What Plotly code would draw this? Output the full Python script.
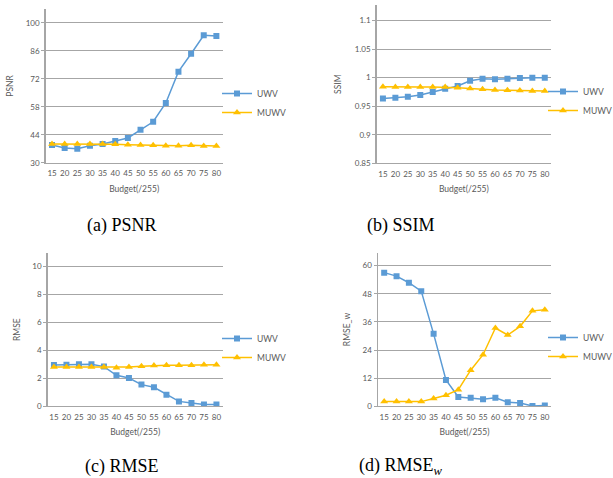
import plotly.graph_objects as go

categories = ["15", "20", "25", "30", "35", "40", "45", "50", "55", "60", "65", "70", "75", "80"]

psnr_uwv = [38.9, 37.4, 37.0, 38.5, 39.4, 40.9, 42.4, 46.5, 50.5, 59.9, 75.6, 84.6, 93.8, 93.5]
psnr_muwv = [39.4, 39.4, 39.4, 39.4, 39.4, 39.2, 39.0, 38.9, 38.7, 38.5, 38.5, 38.7, 38.4, 38.4]

ssim_uwv = [0.9636, 0.9648, 0.9666, 0.9695, 0.9747, 0.9805, 0.9852, 0.9945, 0.998, 0.9969, 0.998, 0.9992, 0.9998, 0.9998]
ssim_muwv = [0.984, 0.9834, 0.9834, 0.9834, 0.9834, 0.9834, 0.9823, 0.9811, 0.9794, 0.9782, 0.978, 0.9776, 0.9765, 0.9765]

rmse_uwv = [2.94, 2.96, 2.98, 2.98, 2.82, 2.20, 2.00, 1.53, 1.34, 0.81, 0.33, 0.21, 0.10, 0.10]
rmse_muwv = [2.79, 2.79, 2.79, 2.79, 2.79, 2.74, 2.79, 2.84, 2.89, 2.91, 2.91, 2.91, 2.96, 2.96]

rmsew_uwv = [57.0, 55.5, 52.7, 49.1, 30.9, 11.2, 4.0, 3.6, 3.0, 3.6, 1.7, 1.4, 0.1, 0.3]
rmsew_muwv = [2.1, 2.1, 2.1, 2.0, 3.3, 4.7, 7.1, 15.4, 22.0, 33.4, 30.4, 34.1, 40.7, 41.2]

series_names = ["UWV", "MUWV"]
y_titles = ["PSNR", "SSIM", "RMSE", "RMSE_w"]
captions = ["(a) PSNR", "(b) SSIM", "(c) RMSE", "(d) RMSE<sub><i>w</i></sub>"]
x_title = "Budget(/255)"

psnr_ticks = [30, 44, 58, 72, 86, 100]
ssim_ticks = [0.85, 0.9, 0.95, 1, 1.05, 1.1]
ssim_ticktext = ["0.85", "0.9", "0.95", "1", "1.05", "1.1"]
rmse_ticks = [0, 2, 4, 6, 8, 10]
rmsew_ticks = [0, 12, 24, 36, 48, 60]

W, H = 613, 478
BLUE = "#5B9BD5"
GOLD = "#FFC000"
GRID = "#A6A6A6"
TXT = "#595959"
FONT = "Lato"

panels = [
    dict(data=(psnr_uwv, psnr_muwv), xd=(45.7, 222.7), yd=(9, 162.7), rng=[30, 107], tv=psnr_ticks, tt=[str(v) for v in psnr_ticks], ys=10),
    dict(data=(ssim_uwv, ssim_muwv), xd=(376.7, 551), yd=(5, 163.3), rng=[0.85, 1.127], tv=ssim_ticks, tt=ssim_ticktext, ys=12),
    dict(data=(rmse_uwv, rmse_muwv), xd=(47.7, 222.7), yd=(253.3, 406), rng=[0, 10.93], tv=rmse_ticks, tt=[str(v) for v in rmse_ticks], ys=10),
    dict(data=(rmsew_uwv, rmsew_muwv), xd=(378, 551), yd=(252.7, 406.3), rng=[0, 65.5], tv=rmsew_ticks, tt=[str(v) for v in rmsew_ticks], ys=10),
]

fig = go.Figure()
layout = dict(
    width=W, height=H,
    margin=dict(l=0, r=0, t=0, b=0, autoexpand=False),
    paper_bgcolor="white", plot_bgcolor="white",
    font=dict(family=FONT, color=TXT, size=8),
    annotations=[],
)

legend_pos = [(257, 92), (583, 90), (257, 337), (583, 336)]
caption_pos = [(122, 225), (401, 225), (122, 466), (401, 466)]

for i, p in enumerate(panels):
    k = "" if i == 0 else str(i + 1)
    lg = "legend" if i == 0 else "legend" + str(i + 1)
    u, m = p["data"]
    fig.add_trace(go.Scatter(
        x=categories, y=u, name=series_names[0], mode="lines+markers",
        line=dict(color=BLUE, width=1.5),
        marker=dict(symbol="square", size=6, color=BLUE),
        xaxis="x" + k, yaxis="y" + k, legend=lg,
    ))
    fig.add_trace(go.Scatter(
        x=categories, y=m, name=series_names[1], mode="lines+markers",
        line=dict(color=GOLD, width=1.5),
        marker=dict(symbol="triangle-up", size=7, color=GOLD),
        xaxis="x" + k, yaxis="y" + k, legend=lg,
    ))
    x0, x1 = p["xd"]
    yt, yb = p["yd"]
    layout["xaxis" + k] = dict(
        domain=[x0 / W, x1 / W], anchor="y" + k, type="category",
        range=[-0.5, 13.5], showgrid=False, showline=True, linecolor=GRID, linewidth=1,
        ticks="", ticklabelstandoff=3, tickfont=dict(size=8, color=TXT, family=FONT),
        title=dict(text=x_title, font=dict(size=8.5, color=TXT, family=FONT), standoff=8),
        fixedrange=True,
    )
    layout["yaxis" + k] = dict(
        domain=[1 - yb / H, 1 - yt / H], anchor="x" + k,
        range=p["rng"], tickvals=p["tv"], ticktext=p["tt"],
        showgrid=True, gridcolor=GRID, gridwidth=1,
        showline=True, linecolor=GRID, linewidth=1.5,
        ticks="outside", ticklen=3, tickcolor=GRID,
        tickfont=dict(size=8, color=TXT, family=FONT),
        zeroline=False,
        title=dict(text=y_titles[i], font=dict(size=8.5, color=TXT, family=FONT), standoff=p["ys"]),
        fixedrange=True,
    )
    lx, ly = legend_pos[i]
    layout[lg] = dict(
        x=(lx - 40) / W, y=1 - (ly - 13) / H, xanchor="left", yanchor="top",
        bgcolor="rgba(0,0,0,0)", font=dict(size=8.5, color=TXT, family=FONT),
        tracegroupgap=0,
    )
    cx, cy = caption_pos[i]
    layout["annotations"].append(dict(
        text=captions[i], x=cx / W, y=1 - cy / H, xref="paper", yref="paper",
        xanchor="center", yanchor="middle", showarrow=False,
        font=dict(family="Liberation Serif", size=18, color="black"),
    ))

fig.update_layout(**layout)
fig.write_html(
    "out.html",
    config={"displayModeBar": False, "staticPlot": True},
    post_script="document.body.style.margin='0';document.body.style.padding='0';",
)
